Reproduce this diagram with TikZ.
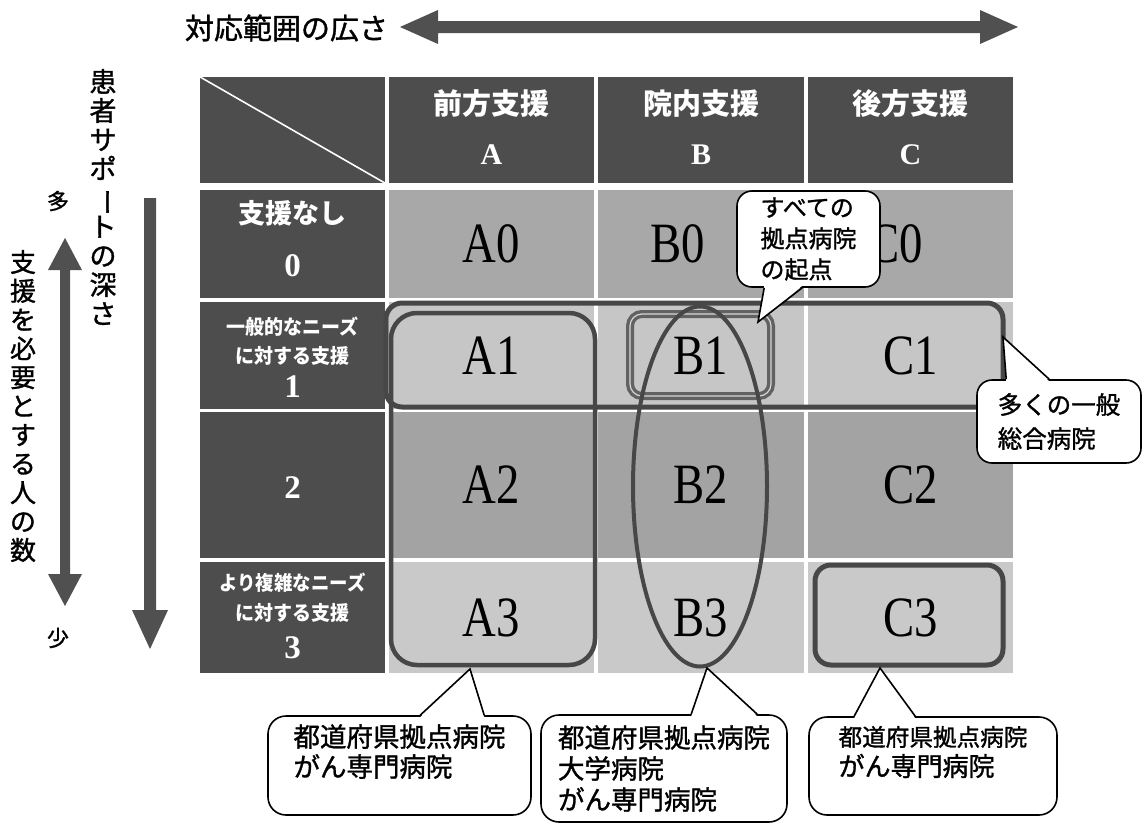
\documentclass[tikz,border=0pt]{standalone}
\usepackage{fontspec}
\setmainfont{Liberation Serif}
\newfontfamily\jp{Noto Sans CJK JP}
\newfontfamily\jpm[FakeBold=1.2]{Noto Sans CJK JP}
\newcommand\cnd[1]{\scalebox{0.82}[1]{#1}}
\definecolor{cdark}{HTML}{4D4D4D}
\definecolor{crowa}{HTML}{A8A8A8}
\definecolor{crowb}{HTML}{C6C6C6}
\definecolor{crowc}{HTML}{A3A3A3}
\definecolor{crowd}{HTML}{C9C9C9}
\definecolor{cline}{HTML}{474747}
\definecolor{carrow}{HTML}{505050}
\definecolor{cbox}{HTML}{626262}
\begin{document}
\begin{tikzpicture}[x=1pt,y=-1pt,
  cellbox/.style={inner sep=0pt, draw=none},
  datatxt/.style={font=\fontsize{57}{57}\selectfont, text=black},
  hdrtxt/.style={font=\jp\bfseries\fontsize{29}{29}\selectfont, text=white, inner sep=0pt},
  hdrletter/.style={font=\bfseries\fontsize{30}{30}\selectfont, text=white, inner sep=0pt},
  lbltxt/.style={font=\jp\bfseries\fontsize{20}{20}\selectfont, text=white, inner sep=0pt},
  lbldigit/.style={font=\bfseries\fontsize{33}{33}\selectfont, text=white, inner sep=0pt},
  ring/.style={draw=cline, line width=4.5pt, rounded corners=16pt},
  callout/.style={draw=black, line width=1.6pt, fill=white, rounded corners=15pt, inner sep=0pt, align=left},
  tail/.style={draw=black, line width=1.6pt, line join=miter},
  sidetxt/.style={font=\jp\fontsize{27}{28.8}\selectfont, align=center, inner sep=0pt, text=black},
]
\useasboundingbox (0,0) rectangle (1144,827);
\fill[white] (0,0) rectangle (1144,827);

% ---- top title and arrow
\node[font=\jpm\fontsize{29}{29}\selectfont, inner sep=0pt] (title) at (286.5,28) {対応範囲の広さ};
\fill[carrow] (400,27) -- (438,10) -- (438,21) -- (980,21) -- (980,10) -- (1018,27)
  -- (980,44) -- (980,33) -- (438,33) -- (438,44) -- cycle;

% ---- left side texts and arrows
\node[sidetxt, font=\jpm\fontsize{27}{29}\selectfont] (depth) at (103,197) {患\\者\\サ\\ポ\\\rotatebox[origin=c]{-90}{ー}\\ト\\の\\深\\さ};
\node[sidetxt, font=\jpm\fontsize{26}{28.8}\selectfont] (people) at (23,406) {支\\援\\を\\必\\要\\と\\す\\る\\人\\の\\数};
\node[font=\jpm\fontsize{22}{22}\selectfont, inner sep=0pt] (many) at (58,201) {多};
\node[font=\jpm\fontsize{22}{22}\selectfont, inner sep=0pt] (few) at (58,638) {少};
\fill[carrow] (65,238) -- (82,270) -- (70,270) -- (70,574) -- (82,574) -- (65,606)
  -- (48,574) -- (60,574) -- (60,270) -- (48,270) -- cycle;
\fill[carrow] (144,198) -- (156,198) -- (156,610) -- (168,610) -- (150,649)
  -- (132,610) -- (144,610) -- cycle;

% ---- header row
\node[cellbox, fill=cdark, minimum width=185pt, minimum height=106pt] (corner) at (292.5,130) {};
\draw[white, line width=1.6pt] (corner.north west) -- (corner.south east);
\node[cellbox, fill=cdark, minimum width=205pt, minimum height=106pt] (hA) at (491.5,130) {};
\node[cellbox, fill=cdark, minimum width=206pt, minimum height=106pt] (hB) at (701,130) {};
\node[cellbox, fill=cdark, minimum width=205pt, minimum height=106pt] (hC) at (910.5,130) {};
\node[hdrtxt] (hA1) at (491.5,104) {前方支援};
\node[hdrtxt] (hB1) at (701,104) {院内支援};
\node[hdrtxt] (hC1) at (910.5,104) {後方支援};
\node[hdrletter] (hA2) at (491.5,155) {A};
\node[hdrletter] (hB2) at (701,155) {B};
\node[hdrletter] (hC2) at (910.5,155) {C};

% ---- row labels
\node[cellbox, fill=cdark, minimum width=185pt, minimum height=108pt] (l0) at (292.5,244) {};
\node[cellbox, fill=cdark, minimum width=185pt, minimum height=107pt] (l1) at (292.5,355.5) {};
\node[cellbox, fill=cdark, minimum width=185pt, minimum height=146pt] (l2) at (292.5,485) {};
\node[cellbox, fill=cdark, minimum width=185pt, minimum height=111pt] (l3) at (292.5,617.5) {};
\node[hdrtxt, font=\jp\bfseries\fontsize{27}{27}\selectfont] (l0a) at (292.5,213) {支援なし};
\node[lbldigit] (l0b) at (292.5,266) {0};
\node[lbltxt] (l1a) at (292.5,327) {\scalebox{0.95}[1]{一般的なニーズ}};
\node[lbltxt] (l1b) at (292.5,356) {\scalebox{0.95}[1]{に対する支援}};
\node[lbldigit] (l1c) at (292.5,387) {1};
\node[lbldigit] (l2a) at (292.5,488) {2};
\node[lbltxt] (l3a) at (292.5,583) {\scalebox{0.92}[1]{より複雑なニーズ}};
\node[lbltxt] (l3b) at (292.5,613) {\scalebox{0.95}[1]{に対する支援}};
\node[lbldigit] (l3c) at (292.5,648) {3};

% ---- data cells
\node[cellbox, fill=crowa, minimum width=205pt, minimum height=108pt, datatxt] (A0) at (491.5,244) {\cnd{A0}};
\node[cellbox, fill=crowa, minimum width=206pt, minimum height=108pt, datatxt] (B0) at (701,244) {\hspace*{-46pt}\cnd{B0}};
\node[cellbox, fill=crowa, minimum width=205pt, minimum height=108pt, datatxt] (C0) at (910.5,244) {\hspace*{-30pt}\cnd{C0}};
\node[cellbox, fill=crowb, minimum width=205pt, minimum height=107pt, datatxt] (A1) at (491.5,355.5) {\cnd{A1}};
\node[cellbox, fill=crowb, minimum width=206pt, minimum height=107pt, datatxt] (B1) at (701,355.5) {\cnd{B1}};
\node[cellbox, fill=crowb, minimum width=205pt, minimum height=107pt, datatxt] (C1) at (910.5,355.5) {\cnd{C1}};
\node[cellbox, fill=crowc, minimum width=205pt, minimum height=146pt, datatxt] (A2) at (491.5,485) {\cnd{A2}};
\node[cellbox, fill=crowc, minimum width=206pt, minimum height=146pt, datatxt] (B2) at (701,485) {\cnd{B2}};
\node[cellbox, fill=crowc, minimum width=205pt, minimum height=146pt, datatxt] (C2) at (910.5,485) {\cnd{C2}};
\node[cellbox, fill=crowd, minimum width=205pt, minimum height=111pt, datatxt] (A3) at (491.5,617.5) {\cnd{A3}};
\node[cellbox, fill=crowd, minimum width=206pt, minimum height=111pt, datatxt] (B3) at (701,617.5) {\cnd{B3}};
\node[cellbox, fill=crowd, minimum width=205pt, minimum height=111pt, datatxt] (C3) at (910.5,617.5) {\cnd{C3}};

% ---- groupings
\draw[ring, line width=5pt] (386,303) rectangle (1003,407);
\draw[ring, rounded corners=26pt] (391,313) rectangle (595,665);
\draw[draw=cbox, line width=8pt, rounded corners=12pt] (630,314) rectangle (771,396);
\draw[draw=crowb!70!white, line width=1.2pt, rounded corners=12pt] (630,314) rectangle (771,396);
\draw[draw=cline, line width=4pt] (700,486.5) ellipse [x radius=67pt, y radius=180pt];
\draw[ring, line width=5pt] (815,565) rectangle (1003,665);

% ---- callouts
\node[callout, minimum width=143pt, minimum height=96pt, font=\jpm\fontsize{24}{31}\selectfont] (cAll) at (808.5,239) {すべての\\拠点病院\\の起点};
\coordinate (tAll) at (758,322);
\fill[white] ([xshift=28pt,yshift=2pt]cAll.south west) -- (tAll) -- ([xshift=66pt,yshift=2pt]cAll.south west) -- cycle;
\draw[tail] ([xshift=28pt]cAll.south west) -- (tAll) -- ([xshift=66pt]cAll.south west);

\node[callout, minimum width=164pt, minimum height=83pt, font=\jpm\fontsize{24.5}{34}\selectfont] (cGen) at (1059,421.5) {多くの一般\\総合病院};
\coordinate (tGen) at (1003,337);
\fill[white] ([xshift=30pt,yshift=-2pt]cGen.north west) -- (tGen) -- ([xshift=73pt,yshift=-2pt]cGen.north west) -- cycle;
\draw[tail] ([xshift=30pt]cGen.north west) -- (tGen) -- ([xshift=73pt]cGen.north west);

\node[callout, rounded corners=18pt, minimum width=263pt, minimum height=99pt, font=\jpm\fontsize{26.5}{30}\selectfont] (cA) at (399.5,765.5) {都道府県拠点病院\\がん専門病院\\\mbox{}};
\coordinate (tA) at (470,669);
\fill[white] ([xshift=153pt,yshift=-2pt]cA.north west) -- (tA) -- ([xshift=217pt,yshift=-2pt]cA.north west) -- cycle;
\draw[tail] ([xshift=153pt]cA.north west) -- (tA) -- ([xshift=217pt]cA.north west);

\node[callout, rounded corners=18pt, minimum width=246pt, minimum height=107pt, font=\jpm\fontsize{26.5}{31}\selectfont] (cB) at (664,768.5) {都道府県拠点病院\\大学病院\\がん専門病院};
\coordinate (tB) at (707,668);
\fill[white] ([xshift=151pt,yshift=-2pt]cB.north west) -- (tB) -- ([xshift=217pt,yshift=-2pt]cB.north west) -- cycle;
\draw[tail] ([xshift=151pt]cB.north west) -- (tB) -- ([xshift=217pt]cB.north west);

\node[callout, rounded corners=18pt, minimum width=248pt, minimum height=98pt, font=\jpm\fontsize{26}{30}\selectfont] (cC) at (933,766) {{\fontsize{23.6}{30}\selectfont 都道府県拠点病院}\\がん専門病院\\\mbox{}};
\coordinate (tC) at (880,668);
\fill[white] ([xshift=46pt,yshift=-2pt]cC.north west) -- (tC) -- ([xshift=107pt,yshift=-2pt]cC.north west) -- cycle;
\draw[tail] ([xshift=46pt]cC.north west) -- (tC) -- ([xshift=107pt]cC.north west);
\end{tikzpicture}
\end{document}
